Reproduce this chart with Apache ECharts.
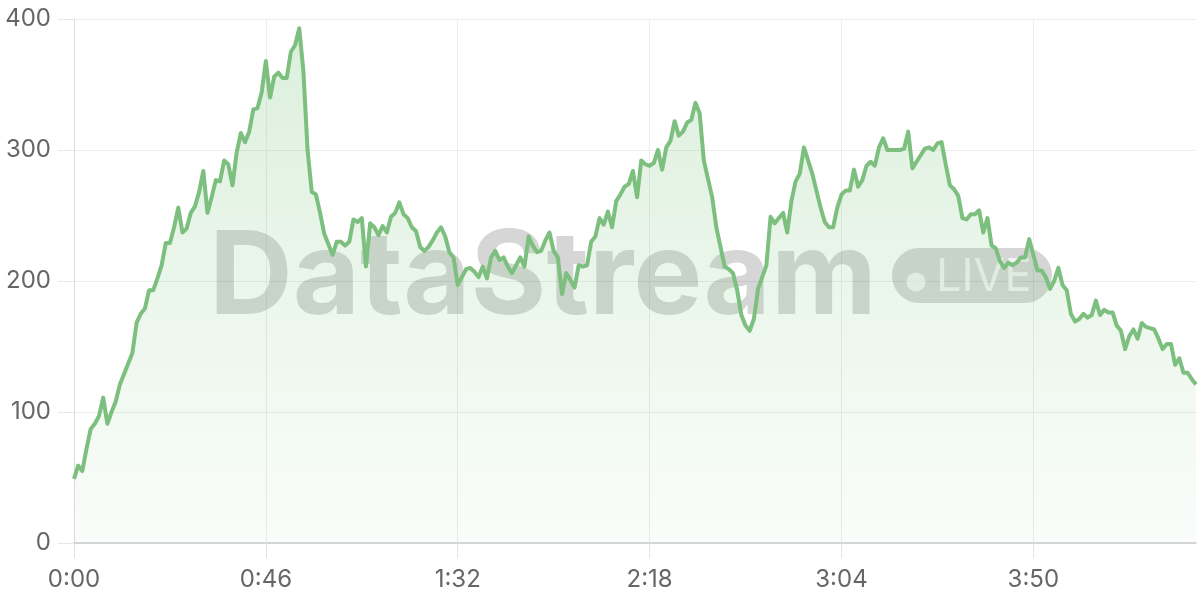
<!DOCTYPE html>
<html>
<head>
<meta charset="utf-8">
<script src="https://cdn.jsdelivr.net/npm/echarts@6/dist/echarts.min.js"></script>
<style>
html,body{margin:0;padding:0;background:#fff;}
#chart{width:1200px;height:600px;}
</style>
</head>
<body>
<div id="chart"></div>
<script>
// values, one per second (0:00 .. 4:29)
const values = [
  49,59,55,72,87,91,97,111,91,100,
  108,121,129,137,145,168,175,179,193,193,
  202,212,229,229,241,256,237,240,252,257,
  268,284,252,264,277,276,292,289,273,298,
  313,306,314,331,332,344,368,
  340,356,359,355,355,375,380,393,360,300,
  268,266,252,236,228,220,230,230,227,230,
  247,245,248,211,244,241,235,242,237,249,
  252,260,251,248,241,238,226,223,226,231,
  237,241,234,222,218,
  197,203,209,210,207,203,211,202,
  218,223,216,218,211,206,212,218,211,234,
  227,222,223,231,237,223,218,190,206,201,
  195,212,211,212,230,234,248,243,253,241,
  261,266,272,274,284,264,292,289,
  288,290,300,285,302,307,322,311,314,321,
  323,336,328,292,278,264,241,226,211,209,
  206,193,174,166,162,171,194,203,212,249,
  244,248,252,237,261,276,282,302,292,282,
  269,256,245,241,
  241,256,266,269,269,285,272,277,288,291,
  288,302,309,300,300,300,300,301,314,286,
  291,296,301,302,300,305,306,289,273,270,
  265,248,247,251,251,254,237,248,227,225,
  215,210,214,212,214,218,218,232,220,208,
  208,203,194,200,210,197,193,175,169,171,
  175,172,174,185,174,178,176,176,166,162,
  148,158,163,156,168,165,164,163,156,148,
  152,152,136,141,130,130,125,121
];
// category labels: elapsed time m:ss
const timeLabels = values.map((_, i) => Math.floor(i / 60) + ':' + String(i % 60).padStart(2, '0'));
const yTicks = [0, 100, 200, 300, 400];
const watermarkText = 'DataStream';
const badgeText = 'LIVE';

const chart = echarts.init(document.getElementById('chart'), null, {renderer: 'canvas'});
const font = 'Inter, "Noto Sans", sans-serif';
chart.setOption({
  animation: false,
  backgroundColor: '#ffffff',
  grid: {left: 74, right: 4, top: 19, bottom: 57, containLabel: false},
  xAxis: {
    type: 'category',
    boundaryGap: false,
    data: timeLabels,
    axisLine: {show: true, lineStyle: {color: '#cccccc', width: 1.5}},
    axisTick: {show: true, interval: 45, length: 15, lineStyle: {color: '#e2e2e2'}},
    axisLabel: {interval: 45, color: '#666666', fontSize: 24, fontFamily: font, margin: 25},
    splitLine: {show: true, interval: 45, lineStyle: {color: '#ececec'}}
  },
  yAxis: {
    type: 'value',
    min: yTicks[0],
    max: yTicks[yTicks.length - 1],
    interval: yTicks[1] - yTicks[0],
    axisLine: {show: true, lineStyle: {color: '#dddddd'}},
    axisTick: {show: true, length: 16, lineStyle: {color: '#e6e6e6'}},
    axisLabel: {color: '#666666', fontSize: 24, fontFamily: font, margin: 23},
    splitLine: {show: true, lineStyle: {color: '#ececec'}}
  },
  graphic: {
    elements: [
      {
        type: 'text', z: 1, silent: true,
        left: 209, top: 221,
        style: {
          text: watermarkText,
          fill: 'rgba(0,0,0,0.16)',
          font: 'bold 116px Inter, "Noto Sans", sans-serif'
        }
      },
      {
        type: 'rect', z: 1, silent: true,
        shape: {x: 892, y: 248, width: 160, height: 55, r: 27},
        style: {fill: 'rgba(0,0,0,0.16)'}
      },
      {
        type: 'circle', z: 1, silent: true,
        shape: {cx: 916, cy: 282, r: 9.5},
        style: {fill: 'rgba(255,255,255,0.7)'}
      },
      {
        type: 'text', z: 1, silent: true,
        left: 936, top: 255,
        style: {
          text: badgeText,
          fill: 'rgba(255,255,255,0.7)',
          font: '45px Inter, "Noto Sans", sans-serif'
        }
      }
    ]
  },
  series: [{
    type: 'line',
    data: values,
    showSymbol: false,
    symbol: 'none',
    z: 2,
    lineStyle: {color: '#7cbf7e', width: 4, join: 'round'},
    areaStyle: {
      color: new echarts.graphic.LinearGradient(0, 0, 0, 1, [
        {offset: 0, color: 'rgba(129,199,132,0.40)'},
        {offset: 1, color: 'rgba(129,199,132,0.06)'}
      ])
    }
  }]
});
</script>
</body>
</html>
